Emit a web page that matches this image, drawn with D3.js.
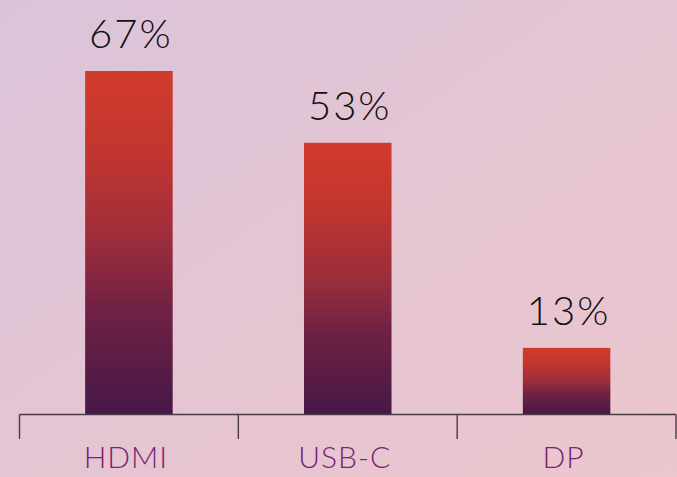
<!DOCTYPE html>
<html>
<head>
<meta charset="utf-8">
<script src="https://cdn.jsdelivr.net/npm/d3@7"></script>
<style>
  html, body { margin: 0; padding: 0; }
  body { width: 677px; height: 477px; overflow: hidden; }
</style>
</head>
<body>
<div id="main"></div>
<script>
"use strict";

// data
var categories = ["HDMI", "USB-C", "DP"];
var shares = [67, 53, 13];
var valueLabels = ["67%", "53%", "13%"];

var W = 677, H = 477;
var axisY = 414.5;

var svg = d3.select("#main").append("svg")
    .attr("width", W)
    .attr("height", H);

var defs = svg.append("defs");

var bg = defs.append("linearGradient").attr("id", "bg")
    .attr("x1", "0%").attr("y1", "0%").attr("x2", "100%").attr("y2", "100%");
bg.append("stop").attr("offset", "0%").attr("stop-color", "#dbc4da");
bg.append("stop").attr("offset", "55%").attr("stop-color", "#e5c5d2");
bg.append("stop").attr("offset", "100%").attr("stop-color", "#ebc6cd");

var barGrad = defs.append("linearGradient").attr("id", "barGrad")
    .attr("x1", "0").attr("y1", "0").attr("x2", "0").attr("y2", "1");
barGrad.append("stop").attr("offset", "0%").attr("stop-color", "#d13b2c");
barGrad.append("stop").attr("offset", "25%").attr("stop-color", "#c0352f");
barGrad.append("stop").attr("offset", "50%").attr("stop-color", "#9b2d3c");
barGrad.append("stop").attr("offset", "70%").attr("stop-color", "#6f2144");
barGrad.append("stop").attr("offset", "100%").attr("stop-color", "#461847");

svg.append("rect").attr("width", W).attr("height", H).attr("fill", "url(#bg)");

var x = d3.scaleBand()
    .domain(categories)
    .range([19.5, 676])
    .padding(0);

var y = d3.scaleLinear()
    .domain([0, 67])
    .range([axisY, 71]);

var barW = x.bandwidth() * 0.4;

svg.selectAll("rect.bar")
    .data(shares)
    .enter().append("rect")
    .attr("class", "bar")
    .attr("x", function(d, i){ return x(categories[i]) + (x.bandwidth() - barW) / 2; })
    .attr("y", function(d){ return y(d); })
    .attr("width", barW)
    .attr("height", function(d){ return y(0) - y(d); })
    .attr("fill", "url(#barGrad)");

svg.selectAll("text.val")
    .data(shares)
    .enter().append("text")
    .attr("class", "val")
    .attr("x", function(d, i){ return x(categories[i]) + x.bandwidth() / 2 + 2; })
    .attr("y", function(d){ return y(d) - 23; })
    .attr("text-anchor", "middle")
    .style("font-family", "Lato, 'Open Sans', sans-serif")
    .style("font-weight", "300")
    .style("font-size", "40px")
    .style("letter-spacing", "2px")
    .attr("fill", "#141014")
    .text(function(d, i){ return valueLabels[i]; });

// axis: baseline with downward ticks at band edges
var axisG = svg.append("g");
axisG.append("line")
    .attr("x1", x.range()[0]).attr("x2", x.range()[1])
    .attr("y1", axisY).attr("y2", axisY)
    .attr("stroke", "#4a3a46").attr("stroke-width", 1.4);

var tickPos = categories.map(function(c){ return x(c); }).concat([x.range()[1]]);
axisG.selectAll("line.tick")
    .data(tickPos)
    .enter().append("line")
    .attr("class", "tick")
    .attr("x1", function(d){ return d; }).attr("x2", function(d){ return d; })
    .attr("y1", axisY).attr("y2", 439)
    .attr("stroke", "#4a3a46").attr("stroke-width", 1.4);

axisG.selectAll("text.cat")
    .data(categories)
    .enter().append("text")
    .attr("class", "cat")
    .attr("x", function(d){ return x(d) + x.bandwidth() / 2 - 3; })
    .attr("y", 468)
    .attr("text-anchor", "middle")
    .style("font-family", "Lato, 'Open Sans', sans-serif")
    .style("font-weight", "300")
    .style("font-size", "30px")
    .style("letter-spacing", "1px")
    .attr("fill", "#7a2272")
    .text(function(d){ return d; });
</script>
</body>
</html>
